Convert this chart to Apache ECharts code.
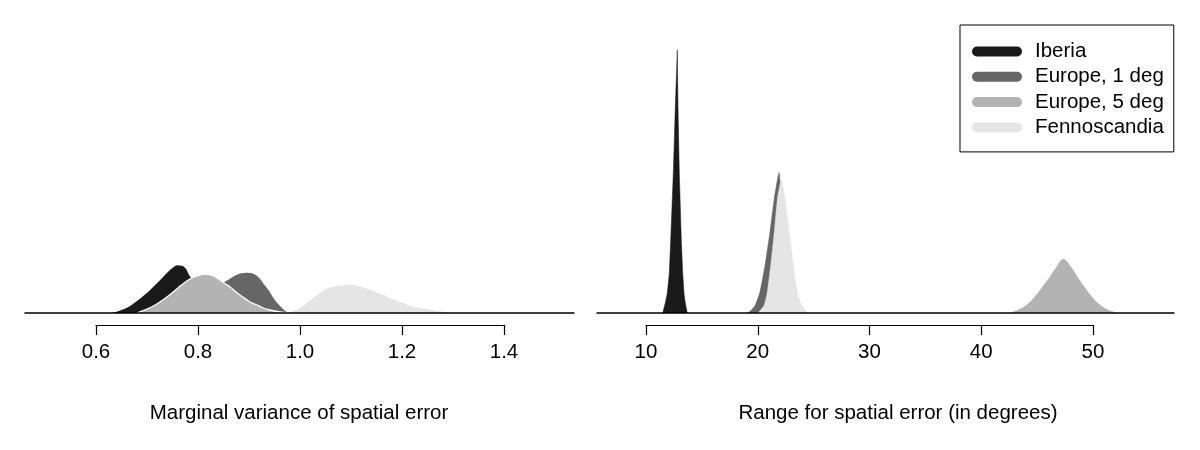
<!DOCTYPE html>
<html>
<head>
<meta charset="utf-8">
<script src="https://cdn.jsdelivr.net/npm/echarts@6/dist/echarts.min.js"></script>
<style>
html,body{margin:0;padding:0;background:#fff;}
#chart{width:1200px;height:450px;}
</style>
</head>
<body>
<div id="chart"></div>
<script>
// ---- data ----
const seriesNames = ['Iberia', 'Europe, 1 deg', 'Europe, 5 deg', 'Fennoscandia'];
const seriesColors = ['#1a1a1a', '#666666', '#b3b3b3', '#e5e5e5'];

// Left panel: marginal variance of spatial error (posterior densities)
const varIberiaX = [0.618, 0.633, 0.647, 0.661, 0.673, 0.686, 0.700, 0.712, 0.726, 0.739, 0.749, 0.759, 0.769, 0.777, 0.784, 0.794, 0.804, 0.824, 0.843, 0.863, 0.882, 0.902];
const varIberiaY = [0, 0.2, 0.6, 1.2, 2.0, 3.0, 4.2, 5.4, 6.8, 8.2, 9.1, 9.7, 9.6, 9.0, 7.6, 6.2, 4.8, 2.6, 1.2, 0.4, 0.1, 0];
const varEur1X = [0.706, 0.745, 0.784, 0.814, 0.833, 0.853, 0.869, 0.882, 0.896, 0.908, 0.920, 0.929, 0.941, 0.951, 0.961, 0.969, 0.977, 0.984];
const varEur1Y = [0, 0.4, 1.6, 3.4, 5.0, 6.4, 7.4, 8.0, 8.2, 8.0, 7.2, 6.0, 4.4, 2.8, 1.6, 0.8, 0.2, 0];
const varEur5X = [0.680, 0.700, 0.716, 0.731, 0.749, 0.765, 0.784, 0.798, 0.814, 0.828, 0.837, 0.851, 0.863, 0.877, 0.888, 0.902, 0.916, 0.928, 0.941, 0.961, 0.980];
const varEur5Y = [0, 0.8, 1.6, 2.6, 4.0, 5.4, 6.8, 7.4, 7.8, 7.5, 7.0, 6.0, 5.2, 4.0, 3.2, 2.2, 1.6, 1.0, 0.6, 0.2, 0];
const varFennoX = [0.975, 1.000, 1.026, 1.053, 1.078, 1.098, 1.124, 1.157, 1.190, 1.222, 1.255, 1.288, 1.320];
const varFennoY = [0, 1.2, 3.2, 5.0, 5.6, 5.8, 5.2, 4.0, 2.6, 1.4, 0.8, 0.3, 0];

// Right panel: range for spatial error (in degrees)
const rngIberiaX = [11.494, 11.727, 11.906, 12.085, 12.210, 12.443, 12.622, 12.801, 12.864, 12.980, 13.159, 13.284, 13.400, 13.517, 13.696];
const rngIberiaY = [0, 0.042, 0.083, 0.167, 0.304, 0.583, 0.858, 1.096, 0.858, 0.583, 0.304, 0.167, 0.083, 0.042, 0];
const rngEur1X = [19.011, 19.306, 19.754, 20.201, 20.649, 21.096, 21.481, 21.902, 22.125, 22.394, 22.662, 22.975, 23.333, 23.781];
const rngEur1Y = [0, 0.006, 0.031, 0.088, 0.198, 0.338, 0.477, 0.585, 0.477, 0.338, 0.198, 0.088, 0.031, 0];
const rngEur5X = [42.573, 43.316, 44.067, 44.810, 45.499, 46.152, 46.752, 47.342, 48.004, 48.595, 49.195, 49.884, 50.626, 51.369, 52.121];
const rngEur5Y = [0, 0.0125, 0.033, 0.068, 0.110, 0.151, 0.193, 0.224, 0.193, 0.151, 0.110, 0.068, 0.033, 0.0125, 0];
const rngFennoX = [20.022, 20.559, 20.855, 21.159, 21.481, 21.767, 22.125, 22.438, 22.823, 23.181, 23.539, 23.933, 24.523];
const rngFennoY = [0, 0.031, 0.088, 0.198, 0.338, 0.477, 0.554, 0.477, 0.338, 0.198, 0.088, 0.031, 0];

const leftTicks = [0.6, 0.8, 1.0, 1.2, 1.4];
const rightTicks = [10, 20, 30, 40, 50];
const leftTitle = 'Marginal variance of spatial error';
const rightTitle = 'Range for spatial error (in degrees)';

// ---- build ----
function zip(xs, ys) { return xs.map((x, i) => [x, ys[i]]); }
const FONT = '"Liberation Sans", Arial, Helvetica, sans-serif';
const FS = 20.5;

const leftSets = [[varIberiaX, varIberiaY], [varEur1X, varEur1Y], [varEur5X, varEur5Y], [varFennoX, varFennoY]];
const rightSets = [[rngIberiaX, rngIberiaY], [rngEur1X, rngEur1Y], [rngEur5X, rngEur5Y], [rngFennoX, rngFennoY]];
const rightSmooth = [false, 0.15, 0.4, 0.2];

const series = [];
leftSets.forEach((s, i) => {
  series.push({
    name: seriesNames[i], type: 'line', xAxisIndex: 0, yAxisIndex: 0,
    data: zip(s[0], s[1]), showSymbol: false, smooth: 0.4,
    lineStyle: { color: '#ffffff', width: 1.3 },
    itemStyle: { color: seriesColors[i] },
    areaStyle: { color: seriesColors[i], opacity: 1 },
    silent: true, z: 2 + i
  });
});
rightSets.forEach((s, i) => {
  series.push({
    name: seriesNames[i], type: 'line', xAxisIndex: 1, yAxisIndex: 1,
    data: zip(s[0], s[1]), showSymbol: false, smooth: rightSmooth[i],
    lineStyle: { color: seriesColors[i], width: 0.5 },
    itemStyle: { color: seriesColors[i] },
    areaStyle: { color: seriesColors[i], opacity: 1 },
    silent: true, z: 2 + i
  });
});

const chart = echarts.init(document.getElementById('chart'), null, { renderer: 'canvas' });
const baseAxis = (min, max, gi) => ({
  type: 'value', gridIndex: gi, min: min, max: max, z: 20,
  axisLine: { show: true, onZero: false, lineStyle: { color: '#000', width: 1.5 } },
  axisTick: { show: false }, axisLabel: { show: false }, splitLine: { show: false }
});
const tickAxis = (ticks, gi, fmt) => ({
  type: 'value', gridIndex: gi, min: ticks[0], max: ticks[ticks.length - 1],
  interval: ticks[1] - ticks[0],
  axisLine: { show: true, lineStyle: { color: '#000', width: 1.2 } },
  axisTick: { show: true, inside: false, length: 10, lineStyle: { color: '#000', width: 1.2 } },
  axisLabel: { show: true, margin: 17, color: '#000', fontSize: FS, fontFamily: FONT, formatter: fmt },
  splitLine: { show: false }
});
const hiddenY = (max, gi) => ({ type: 'value', gridIndex: gi, min: 0, max: max, show: false });

chart.setOption({
  animation: false,
  backgroundColor: '#ffffff',
  grid: [
    { left: 25, width: 549, top: 40, bottom: 137 },
    { left: 597, width: 577, top: 40, bottom: 137 },
    { left: 96, width: 408, top: 300, bottom: 125 },
    { left: 646, width: 447, top: 300, bottom: 125 }
  ],
  xAxis: [
    baseAxis(0.4608, 1.5373, 0),
    baseAxis(5.615, 57.25, 1),
    tickAxis(leftTicks, 2, v => v.toFixed(1)),
    tickAxis(rightTicks, 3, v => String(Math.round(v)))
  ],
  yAxis: [hiddenY(54.6, 0), hiddenY(1.1375, 1), hiddenY(1, 2), hiddenY(1, 3)],
  legend: {
    left: 960, top: 25, orient: 'vertical', z: 30,
    backgroundColor: '#fff', borderColor: '#000', borderWidth: 1, borderRadius: 0,
    padding: [16, 10, 14, 12], itemGap: 4.3,
    itemWidth: 50, itemHeight: 11,
    icon: 'path://M5,0 H45 A5,5 0 0 1 45,10 H5 A5,5 0 0 1 5,0 Z',
    data: seriesNames.map((n, i) => ({ name: n, itemStyle: { color: seriesColors[i], borderWidth: 0 } })),
    textStyle: { color: '#000', fontSize: FS, lineHeight: 20, fontFamily: FONT, padding: [0, 0, 0, 8] },
    selectedMode: false
  },
  graphic: [
    { type: 'text', x: 299, y: 413, silent: true,
      style: { text: leftTitle, fill: '#000', font: FS + 'px ' + FONT, textAlign: 'center', textVerticalAlign: 'middle' } },
    { type: 'text', x: 898, y: 413, silent: true,
      style: { text: rightTitle, fill: '#000', font: FS + 'px ' + FONT, textAlign: 'center', textVerticalAlign: 'middle' } }
  ],
  series: series
});
</script>
</body>
</html>
